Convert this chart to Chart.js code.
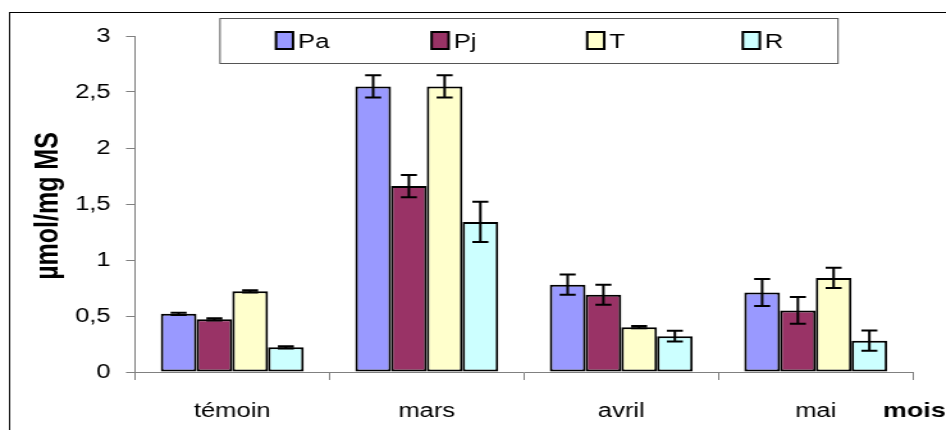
<!DOCTYPE html>
<html>
<head>
<meta charset="utf-8">
<script src="https://cdn.jsdelivr.net/npm/chart.js@4/dist/chart.umd.min.js"></script>
<style>
  html, body { margin: 0; padding: 0; background: #fff; overflow: hidden; }
  #graph { display: block; transform-origin: 0 0; }
</style>
</head>
<body>
<canvas id="graph"></canvas>
<script>
// données
const mois = ["témoin", "mars", "avril", "mai"];
const valeursPa = [0.52, 2.55, 0.78, 0.71];
const valeursPj = [0.47, 1.66, 0.69, 0.55];
const valeursT = [0.72, 2.55, 0.40, 0.84];
const valeursR = [0.22, 1.34, 0.32, 0.28];
const erreursPa = [0.01, 0.10, 0.09, 0.12];
const erreursPj = [0.01, 0.10, 0.09, 0.12];
const erreursT = [0.01, 0.10, 0.01, 0.09];
const erreursR = [0.01, 0.18, 0.048, 0.09];
const yTickLabels = ["0", "0,5", "1", "1,5", "2", "2,5", "3"];

// l'original est étiré horizontalement, on fait pareil
const SX = 1.28;
const W = Math.round(946 / SX);
const H = 430;

const canvas = document.getElementById("graph");
canvas.width = W;
canvas.height = H;
canvas.style.transform = "scaleX(" + SX + ")";

Chart.defaults.font.family = "'Liberation Sans', Arial, sans-serif";
Chart.defaults.color = "#000";

// cadre, légende, titres
const decorPlugin = {
    id: "decor",
    beforeDraw(chart) {
        const ctx = chart.ctx;
        ctx.save();
        ctx.fillStyle = "#fff";
        ctx.fillRect(0, 0, W, H);
        ctx.restore();
    },
    afterDraw(chart) {
        const ctx = chart.ctx;
        ctx.save();
        // cadre extérieur
        ctx.strokeStyle = "#000";
        ctx.lineWidth = 1;
        ctx.strokeRect(Math.round(9 / SX) + 0.5, 12.5, W + 20, H + 20);

        // légende
        ctx.strokeStyle = "#555";
        ctx.strokeRect(220 / SX, 18.5, (838 - 220) / SX, 45);
        ctx.font = "20px 'Liberation Sans', Arial, sans-serif";
        ctx.textBaseline = "middle";
        ctx.textAlign = "left";
        chart.data.datasets.forEach((ds, i) => {
            const x = (276 + i * 155.6) / SX;
            ctx.fillStyle = ds.backgroundColor;
            ctx.fillRect(x, 32, 17 / SX, 17);
            ctx.strokeStyle = "#000";
            ctx.lineWidth = 2;
            ctx.strokeRect(x, 32, 17 / SX, 17);
            ctx.fillStyle = "#000";
            ctx.fillText(ds.label, x + 22 / SX, 42);
        });

        // titre de l'axe y
        ctx.font = "bold 25px 'Liberation Sans', Arial, sans-serif";
        ctx.translate(49 / SX, 206);
        ctx.rotate(-Math.PI / 2);
        ctx.textAlign = "center";
        ctx.fillText("µmol/mg MS", 0, 0);
        ctx.restore();

        // titre de l'axe x
        ctx.save();
        ctx.font = "bold 21px 'Liberation Sans', Arial, sans-serif";
        ctx.textBaseline = "middle";
        ctx.textAlign = "left";
        ctx.fillStyle = "#000";
        ctx.fillText("mois", 883 / SX, 411);
        ctx.restore();
    }
};

// barres d'erreur
const erreurPlugin = {
    id: "erreurs",
    afterDatasetsDraw(chart) {
        const ctx = chart.ctx;
        const y = chart.scales.y;
        ctx.save();
        ctx.strokeStyle = "#000";
        ctx.lineWidth = 2;
        chart.data.datasets.forEach((ds, i) => {
            const meta = chart.getDatasetMeta(i);
            meta.data.forEach((bar, j) => {
                const v = ds.data[j];
                const e = ds.erreurs[j];
                const yh = y.getPixelForValue(v + e);
                const yb = y.getPixelForValue(v - e);
                const demi = 8 / SX;
                ctx.beginPath();
                ctx.moveTo(bar.x, yh);
                ctx.lineTo(bar.x, yb);
                ctx.moveTo(bar.x - demi, yh);
                ctx.lineTo(bar.x + demi, yh);
                ctx.moveTo(bar.x - demi, yb);
                ctx.lineTo(bar.x + demi, yb);
                ctx.stroke();
            });
        });
        ctx.restore();
    }
};

function serie(label, data, erreurs, couleur) {
    return {
        label: label,
        data: data,
        erreurs: erreurs,
        backgroundColor: couleur,
        borderColor: "#000",
        borderWidth: 2,
        borderSkipped: false,
        categoryPercentage: 0.735,
        barPercentage: 1.0
    };
}

new Chart(canvas, {
    type: "bar",
    data: {
        labels: mois,
        datasets: [
            serie("Pa", valeursPa, erreursPa, "#9999FF"),
            serie("Pj", valeursPj, erreursPj, "#993366"),
            serie("T", valeursT, erreursT, "#FFFFCC"),
            serie("R", valeursR, erreursR, "#CCFFFF")
        ]
    },
    options: {
        responsive: false,
        animation: false,
        layout: {
            padding: { left: 0, top: 36, right: W - 913 / SX, bottom: 0 }
        },
        plugins: {
            legend: { display: false },
            title: { display: false },
            tooltip: { enabled: false }
        },
        scales: {
            x: {
                afterFit: (s) => { s.height = 58; },
                grid: {
                    offset: true,
                    drawOnChartArea: false,
                    drawTicks: true,
                    tickLength: 8,
                    color: "#808080"
                },
                border: { display: true, color: "#808080" },
                ticks: {
                    font: { size: 20 },
                    padding: 19,
                    maxRotation: 0
                }
            },
            y: {
                min: 0,
                max: 3,
                afterFit: (s) => { s.width = 135 / SX; },
                grid: {
                    drawOnChartArea: false,
                    drawTicks: true,
                    tickLength: 9 / SX,
                    color: "#808080"
                },
                border: { display: true, color: "#808080" },
                ticks: {
                    stepSize: 0.5,
                    font: { size: 20 },
                    padding: 12,
                    callback: (v, i) => yTickLabels[i]
                }
            }
        }
    },
    plugins: [decorPlugin, erreurPlugin]
});
</script>
</body>
</html>
